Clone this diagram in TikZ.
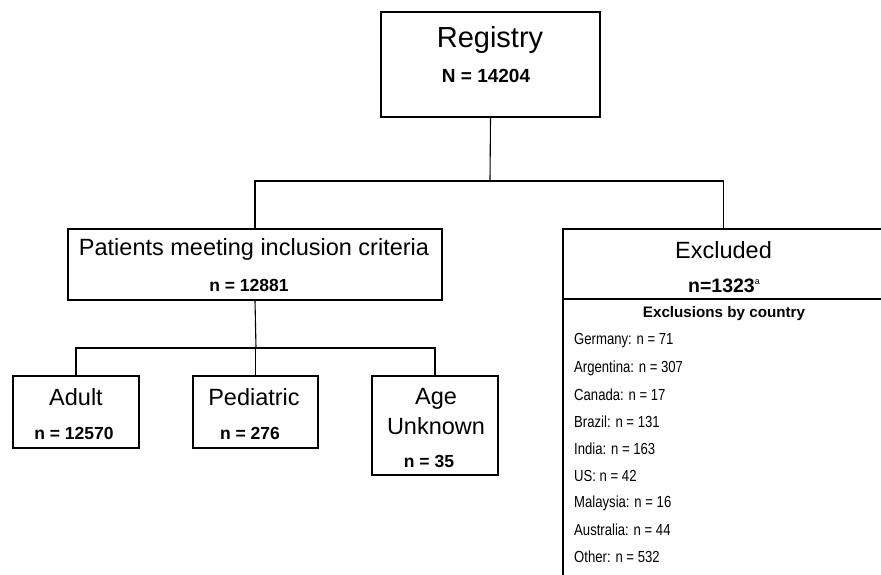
\documentclass[tikz,border=0pt]{standalone}
\usepackage{fontspec}
\setmainfont{Liberation Sans}
\newfontfamily\narrowfont{Liberation Sans}[FakeStretch=0.82]
\begin{document}
\begin{tikzpicture}[x=1pt,y=-1pt,
  box/.style={draw=black,line width=1.1pt,rectangle,inner sep=0pt,fill=white},
  conn/.style={draw=black,line width=1.1pt},
  big/.style={inner sep=0pt,font=\fontsize{29}{34}\selectfont},
  mid/.style={inner sep=0pt,font=\fontsize{23.5}{28}\selectfont},
  num/.style={inner sep=0pt,font=\fontsize{17.5}{21}\selectfont\bfseries},
  hdr/.style={inner sep=0pt,font=\fontsize{15.2}{18}\selectfont\bfseries},
  ctry/.style={inner sep=0pt,anchor=west,font=\narrowfont\fontsize{16}{18}\selectfont}]
\useasboundingbox (0,0) rectangle (881,575);
\clip (0,0) rectangle (881,575);
\fill[white] (0,0) rectangle (881,575);
% boxes
\node[box,minimum width=219pt,minimum height=105pt] (reg) at (490.5,64.5) {};
\node[box,minimum width=374pt,minimum height=71pt] (pat) at (255,264.5) {};
\node[box,minimum width=321pt,minimum height=371pt] (exc) at (723.5,414.5) {};
\node[box,minimum width=126pt,minimum height=72pt] (adult) at (76,412) {};
\node[box,minimum width=125pt,minimum height=72pt] (ped) at (255.5,412) {};
\node[box,minimum width=126pt,minimum height=99pt] (age) at (435,425.5) {};
% junctions
\coordinate (j1) at (490,181);
\coordinate (j2) at (256,348);
\coordinate (dl) at (563,299);
\coordinate (dr) at (884,299);
% connectors
\draw[conn] (reg.south) -- (j1);
\draw[conn] (pat.north) |- (j1) -| (exc.north);
\draw[conn] (pat.south) -- (j2);
\draw[conn] (adult.north) |- (j2) -| (age.north);
\draw[conn] (ped.north) -- (ped.north |- j2);
\draw[conn] (dl) -- (dr);
% texts
\node[big] (tReg) at (490,40) {Registry};
\node[num,font=\fontsize{19}{22}\selectfont\bfseries] (tRegN) at (486,76) {N = 14204};
\node[mid] (tPat) at (254,249) {Patients meeting inclusion criteria};
\node[num] (tPatN) at (249,285) {n = 12881};
\node[mid] (tExc) at (723.5,250) {Excluded};
\node[num,font=\fontsize{19.5}{22}\selectfont\bfseries] (tExcN) at (724,286) {n=1323\raisebox{8pt}{\fontsize{9}{9}\selectfont\mdseries a}};
\node[hdr] (tHdr) at (724,314) {Exclusions by country};
\node[mid] (tAd) at (76,397) {Adult};
\node[num] (tAdN) at (74,433) {n = 12570};
\node[mid] (tPed) at (254,397) {Pediatric};
\node[num] (tPedN) at (250,433) {n = 276};
\node[mid,align=center,font=\fontsize{23.5}{30}\selectfont] (tAge) at (436,412) {Age\\Unknown};
\node[num] (tAgeN) at (429,461) {n = 35};
% country list
\node[ctry] (c1) at (574,341) {Germany: n = 71};
\node[ctry] (c2) at (574,368) {Argentina: n = 307};
\node[ctry] (c3) at (574,395) {Canada: n = 17};
\node[ctry] (c4) at (574,422) {Brazil: n = 131};
\node[ctry] (c5) at (574,449) {India: n = 163};
\node[ctry] (c6) at (574,476) {US: n = 42};
\node[ctry] (c7) at (574,503) {Malaysia: n = 16};
\node[ctry] (c8) at (574,530) {Australia: n = 44};
\node[ctry] (c9) at (574,557) {Other: n = 532};
\end{tikzpicture}
\end{document}
